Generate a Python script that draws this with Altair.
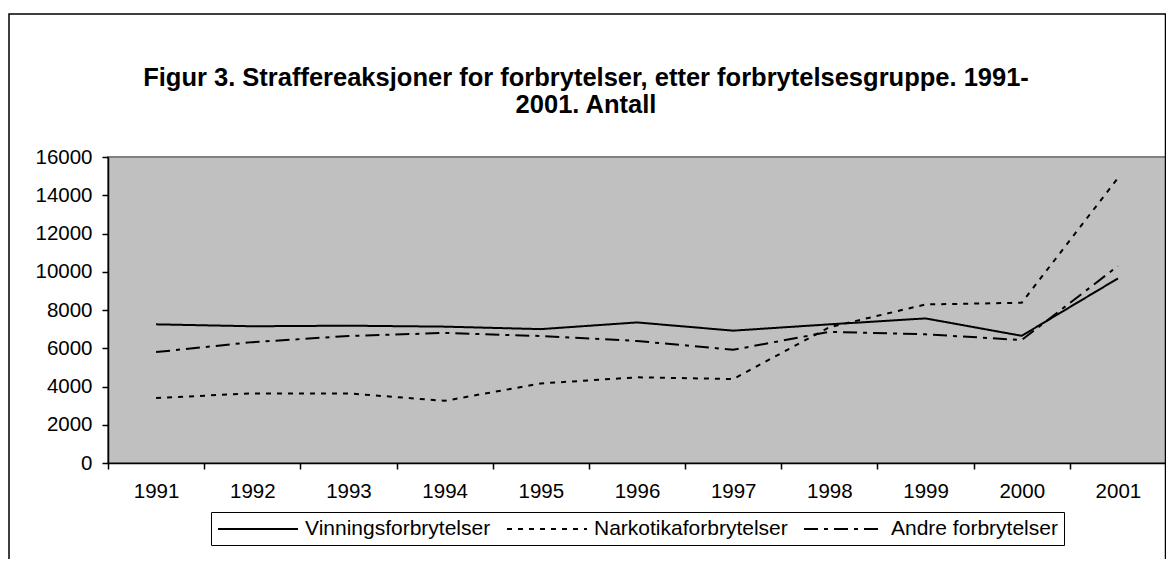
import altair as alt
import pandas as pd

years = [str(y) for y in range(1991, 2002)]
vinnings = [7250, 7150, 7180, 7130, 7000, 7350, 6920, 7250, 7560, 6650, 9650]
narko = [3400, 3640, 3640, 3250, 4160, 4480, 4390, 7100, 8290, 8380, 14900]
andre = [5800, 6320, 6640, 6800, 6640, 6380, 5920, 6860, 6730, 6430, 10300]
series = ["Vinningsforbrytelser", "Narkotikaforbrytelser", "Andre forbrytelser"]
dashes = [[1, 0], [5, 6], [14, 6, 4, 6]]
y_ticks = [0, 2000, 4000, 6000, 8000, 10000, 12000, 14000, 16000]
title_lines = ["Figur 3. Straffereaksjoner for forbrytelser, etter forbrytelsesgruppe. 1991-",
               "2001. Antall"]

rows = []
for name, vals in zip(series, [vinnings, narko, andre]):
    for yr, v in zip(years, vals):
        rows.append({"year": yr, "value": v, "series": name})
df = pd.DataFrame(rows)

FONT = "Liberation Sans"

lines = alt.Chart(df).mark_line(color="black", strokeWidth=2).encode(
    x=alt.X("year:O", bandPosition=0.5,
            scale=alt.Scale(type="band", paddingInner=0, paddingOuter=0),
            axis=alt.Axis(title=None, labelAngle=0, tickBand="extent", tickSize=6,
                          labelPadding=12, domainColor="black", tickColor="black",
                          domainWidth=1.5, tickWidth=1.5)),
    y=alt.Y("value:Q", scale=alt.Scale(domain=[0, 16000], nice=False),
            axis=alt.Axis(title=None, values=y_ticks, grid=False, tickSize=6,
                          labelPadding=10, domainColor="black", tickColor="black",
                          domainWidth=1.5, tickWidth=1.5, format="d")),
    strokeDash=alt.StrokeDash(
        "series:N", sort=series,
        scale=alt.Scale(domain=series, range=dashes),
        legend=alt.Legend(title=None, orient="none", legendX=103, legendY=355,
                          direction="horizontal", symbolType="M-1,0H7", symbolSize=400,
                          symbolStrokeWidth=2, symbolStrokeColor="black",
                          labelFontSize=21, labelFont=FONT, labelColor="black",
                          labelOffset=66, labelLimit=400, columnPadding=12,
                          strokeColor="black", fillColor="white", padding=6)),
)

border = alt.Chart(pd.DataFrame({"a": [0]})).mark_rect(
    fill=None, stroke="black", strokeWidth=1.5
).encode(
    x=alt.value(-99), x2=alt.value(1057.5), y=alt.value(-143), y2=alt.value(500)
)

chart = alt.layer(border, lines).properties(
    width=1058, height=306,
    padding={"left": 100, "top": 149, "right": 0, "bottom": 96},
    autosize=alt.AutoSizeParams(type="none"),
    background="white",
    title=alt.TitleParams(text=title_lines, font=FONT, fontSize=25.5, fontWeight="bold",
                          color="black", anchor="middle", dx=-51, offset=-105,
                          lineHeight=27),
).configure_view(
    fill="#C0C0C0", stroke="#808080", strokeWidth=2
).configure_axis(
    labelFont=FONT, labelFontSize=20.5, labelColor="black"
)

chart.save("out.html", embed_options={"renderer": "svg", "actions": False})
